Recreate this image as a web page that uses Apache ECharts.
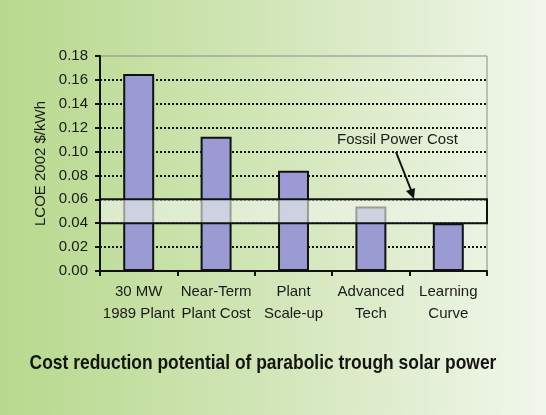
<!DOCTYPE html>
<html><head><meta charset="utf-8">
<script src="https://cdn.jsdelivr.net/npm/echarts@6/dist/echarts.min.js"></script>
<style>html,body{margin:0;padding:0;}#c{width:546px;height:415px;}</style>
</head><body><div id="c"></div>
<script>
const categories = ['30 MW\n1989 Plant', 'Near-Term\nPlant Cost', 'Plant\nScale-up', 'Advanced\nTech', 'Learning\nCurve'];
const lcoe = [0.165, 0.1125, 0.084, 0.054, 0.040];
const fossilBand = [0.04, 0.06];
const yTicks = { min: 0, max: 0.18, interval: 0.02 };
const yAxisTitle = 'LCOE 2002 $/kWh';
const annotation = 'Fossil Power Cost';
const caption = 'Cost reduction potential of parabolic trough solar power';

const chart = echarts.init(document.getElementById('c'), null, { renderer: 'canvas' });
const nLines = Math.round((yTicks.max - yTicks.min) / yTicks.interval) + 1;
const splitColors = [];
for (let i = 0; i < nLines; i++) splitColors.push(i === 0 || i === nLines - 1 ? 'rgba(0,0,0,0)' : '#111');

const font = 'Arial, "Liberation Sans", sans-serif';
chart.setOption({
  backgroundColor: {
    type: 'linear', x: 0, y: 0, x2: 1, y2: 0,
    colorStops: [
      { offset: 0, color: '#b7d98d' },
      { offset: 0.5, color: '#d2e6b8' },
      { offset: 1, color: '#f1f7ec' }
    ]
  },
  animation: false,
  grid: { left: 100, right: 59, top: 56, bottom: 144, show: true, borderColor: '#8a8a8a', borderWidth: 1, backgroundColor: 'transparent' },
  xAxis: {
    type: 'category', data: categories,
    axisLine: { lineStyle: { color: '#111', width: 2 } },
    axisTick: { show: true, length: 5, lineStyle: { color: '#111', width: 2 } },
    axisLabel: { interval: 0, color: '#1a1a1a', fontSize: 15, fontFamily: font, lineHeight: 22, margin: 10 }
  },
  yAxis: {
    type: 'value', min: yTicks.min, max: yTicks.max, interval: yTicks.interval,
    name: yAxisTitle, nameLocation: 'middle', nameGap: 51, nameRotate: 90,
    nameTextStyle: { color: '#1a1a1a', fontSize: 15, fontFamily: font },
    axisLine: { show: true, lineStyle: { color: '#111', width: 2 } },
    axisTick: { show: true, length: 5, lineStyle: { color: '#111', width: 2 } },
    axisLabel: { color: '#1a1a1a', fontSize: 15, fontFamily: font, margin: 12, formatter: v => v.toFixed(2) },
    splitLine: { show: true, lineStyle: { color: splitColors, width: 2, type: [2, 2] } }
  },
  series: [
    {
      type: 'bar', data: lcoe, barWidth: '40%', z: 3,
      itemStyle: { color: '#9a9bd3', borderColor: '#111', borderWidth: 2 }
    },
    {
      type: 'custom', z: 10, silent: true,
      data: [fossilBand],
      renderItem: function (params, api) {
        const cs = params.coordSys;
        const yLo = api.coord([0, api.value(0)])[1];
        const yHi = api.coord([0, api.value(1)])[1];
        return {
          type: 'rect',
          shape: { x: cs.x, y: yHi, width: cs.width, height: yLo - yHi },
          style: { fill: 'rgba(238,244,232,0.62)', stroke: '#111', lineWidth: 2 }
        };
      },
      encode: { y: [0, 1] }
    }
  ],
  graphic: [
    { type: 'text', left: 337, top: 132, z: 20, style: { text: annotation, fill: '#1a1a1a', fontSize: 15, fontFamily: font } },
    { type: 'line', z: 20, shape: { x1: 396, y1: 152, x2: 411, y2: 190 }, style: { stroke: '#111', lineWidth: 2 } },
    { type: 'polygon', z: 20, shape: { points: [[406, 191], [415, 188], [414, 199]] }, style: { fill: '#111' } },
    { type: 'text', x: 263, y: 363, scaleX: 0.83, z: 20,
      style: { text: caption, fill: '#141414', fontSize: 21, fontWeight: 'bold', fontFamily: font, align: 'center', verticalAlign: 'middle' } }
  ]
});
</script></body></html>
